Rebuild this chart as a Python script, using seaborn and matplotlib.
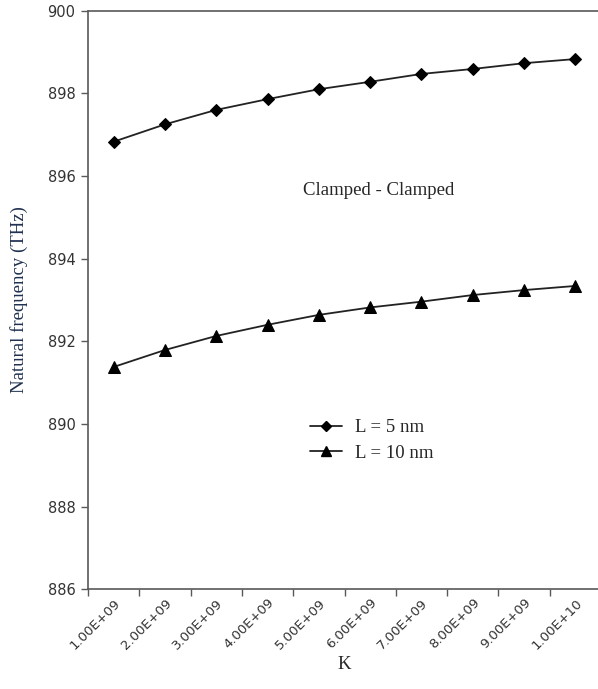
import numpy as np
import pandas as pd
import seaborn as sns
import matplotlib.pyplot as plt
from matplotlib.lines import Line2D

# Data
kLabels = ['1.00E+09', '2.00E+09', '3.00E+09', '4.00E+09', '5.00E+09',
           '6.00E+09', '7.00E+09', '8.00E+09', '9.00E+09', '1.00E+10']
freqL5 = [896.83, 897.25, 897.60, 897.86, 898.10, 898.28, 898.47, 898.59, 898.73, 898.83]
freqL10 = [891.38, 891.79, 892.13, 892.40, 892.64, 892.82, 892.96, 893.12, 893.24, 893.34]

data = pd.DataFrame({'pos': list(range(len(kLabels))) * 2,
                     'freq': freqL5 + freqL10,
                     'series': ['L = 5 nm'] * len(kLabels) + ['L = 10 nm'] * len(kLabels)})

# Styles
sns.set_style('white')
serif = 'Liberation Serif'
axCol = '#595959'
lineCol = '#222222'
txtSize = 13.5

fig = plt.figure(figsize=(5.98, 6.89), dpi=100)
W, H = 598, 689
ax = fig.add_axes([88 / W, 1 - 589.3 / H, (601 - 88) / W, (589.3 - 10.7) / H])

sns.lineplot(data=data, x='pos', y='freq', hue='series', style='series',
             markers={'L = 5 nm': 'D', 'L = 10 nm': '^'}, dashes=False,
             palette={'L = 5 nm': lineCol, 'L = 10 nm': lineCol},
             markersize=7, linewidth=1.3, markeredgecolor='black', ax=ax, legend=False)
for ln, ms in zip(ax.lines, [6, 8]):
    ln.set_markersize(ms)
    ln.set_markerfacecolor('black')

ax.set_xlim(-0.5, 9.5)
ax.set_ylim(886, 900)
ax.set_yticks(np.arange(886, 901, 2))
ax.set_xticks(range(len(kLabels)))
ax.set_xticklabels(kLabels, rotation=45, ha='right', rotation_mode='anchor',
                   fontsize=9.5, color='#333333')
ax.set_xticks(np.arange(-0.5, 9.6, 1), minor=True)
ax.tick_params(axis='x', which='major', length=0, pad=5)
ax.tick_params(axis='x', which='minor', length=5, width=1, color=axCol, direction='out', bottom=True)
ax.tick_params(axis='y', length=5, width=1, color=axCol, direction='out', left=True,
               labelsize=10.5, labelcolor='#333333', pad=4)

for s in ['top', 'right']:
    ax.spines[s].set_visible(False)
for s in ['left', 'bottom']:
    ax.spines[s].set_color(axCol)
    ax.spines[s].set_linewidth(1.2)
ax.axhline(900, color=axCol, lw=1.2, clip_on=False)

ax.set_xlabel('K', fontfamily=serif, fontsize=txtSize, labelpad=3)
ax.set_ylabel('Natural frequency (THz)', fontfamily=serif, fontsize=txtSize, color='#1f3050', labelpad=14)

ax.text(0.567, 0.690, 'Clamped - Clamped', transform=ax.transAxes, fontfamily=serif,
        fontsize=txtSize, ha='center', va='center')

handles = [Line2D([], [], color=lineCol, lw=1.3, marker='D', markersize=5, markerfacecolor='black', markeredgecolor='black'),
           Line2D([], [], color=lineCol, lw=1.3, marker='^', markersize=7, markerfacecolor='black', markeredgecolor='black')]
ax.legend(handles, ['L = 5 nm', 'L = 10 nm'], loc='center left', bbox_to_anchor=(0.4, 0.257),
          frameon=False, prop={'family': serif, 'size': txtSize}, handlelength=1.7, handletextpad=0.7,
          labelspacing=0.45)

fig.savefig('out.png', dpi=100)
